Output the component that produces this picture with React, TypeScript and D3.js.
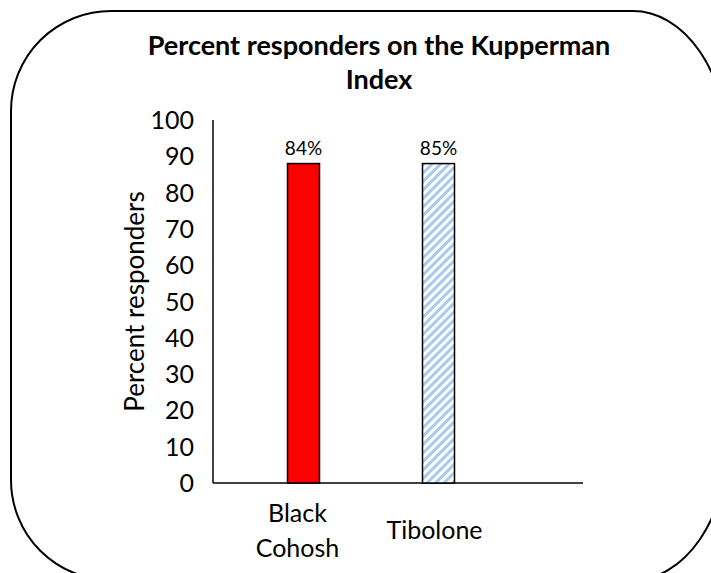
import * as d3 from 'd3'

const categories = ['Black Cohosh', 'Tibolone']
const values = [88, 88]
const valueLabels = ['84%', '85%']
const yTicks = [0, 10, 20, 30, 40, 50, 60, 70, 80, 90, 100]

const W = 711
const H = 573
const FONT = 'Lato, "Open Sans", sans-serif'

export default function App() {
  const y = d3.scaleLinear().domain([0, 100]).range([483, 120])
  const x = d3.scaleBand().domain(categories).range([236, 506])
  const barW = 32
  const axisLeft = 213
  const axisRight = 583

  // frame: rounded box that runs off the right and bottom edges
  const frame = [
    'M 111 11',
    'L 633 11',
    'A 95 140 0 0 1 728 151',
    'L 728 440',
    'A 95 140 0 0 1 633 580',
    'L 111 580',
    'A 100 100 0 0 1 11 480',
    'L 11 111',
    'A 100 100 0 0 1 111 11',
    'Z',
  ].join(' ')

  const cBlack = (x('Black Cohosh') as number) + x.bandwidth() / 2 - 6
  const cTib = (x('Tibolone') as number) + x.bandwidth() / 2 - 4

  return (
    <svg
      width={W}
      height={H}
      style={{ position: 'absolute', left: 0, top: 0, background: '#fff' }}
      fontFamily={FONT}
    >
      <defs>
        <pattern id="hatch" patternUnits="userSpaceOnUse" width="6" height="6" patternTransform="rotate(45)">
          <rect width="6" height="6" fill="#ffffff" />
          <rect width="3" height="6" fill="#a9c9ee" />
        </pattern>
      </defs>
      <path d={frame} fill="#fff" stroke="#000" strokeWidth={2} />

      <text x={379} y={55} textAnchor="middle" fontSize={27} fontWeight="bold" fill="#000">
        Percent responders on the Kupperman
      </text>
      <text x={379} y={89} textAnchor="middle" fontSize={27} fontWeight="bold" fill="#000">
        Index
      </text>

      <text
        transform={`translate(144,${(y(0) + y(100)) / 2}) rotate(-90)`}
        textAnchor="middle"
        fontSize={26}
        fill="#000"
      >
        Percent responders
      </text>

      {yTicks.map(t => (
        <text key={t} x={194} y={y(t)} dy="0.36em" textAnchor="end" fontSize={25} fill="#000">
          {t}
        </text>
      ))}

      <line x1={axisLeft} x2={axisLeft} y1={y(100)} y2={y(0)} stroke="#000" strokeWidth={1.5} />
      <line x1={axisLeft} x2={axisRight} y1={y(0)} y2={y(0)} stroke="#000" strokeWidth={1.5} />

      {categories.map((c, i) => {
        const cx = (x(c) as number) + x.bandwidth() / 2
        return (
          <g key={c}>
            <rect
              x={cx - barW / 2}
              y={y(values[i])}
              width={barW}
              height={y(0) - y(values[i])}
              fill={i === 0 ? '#ff0000' : 'url(#hatch)'}
              stroke="#000"
              strokeWidth={1.5}
            />
            <text x={cx} y={y(values[i]) - 9} textAnchor="middle" fontSize={19} fill="#000">
              {valueLabels[i]}
            </text>
          </g>
        )
      })}

      <text textAnchor="middle" fontSize={25} fill="#000">
        <tspan x={cBlack} y={522}>Black</tspan>
        <tspan x={cBlack} y={557}>Cohosh</tspan>
      </text>
      <text x={cTib} y={539} textAnchor="middle" fontSize={25} fill="#000">
        Tibolone
      </text>
    </svg>
  )
}
